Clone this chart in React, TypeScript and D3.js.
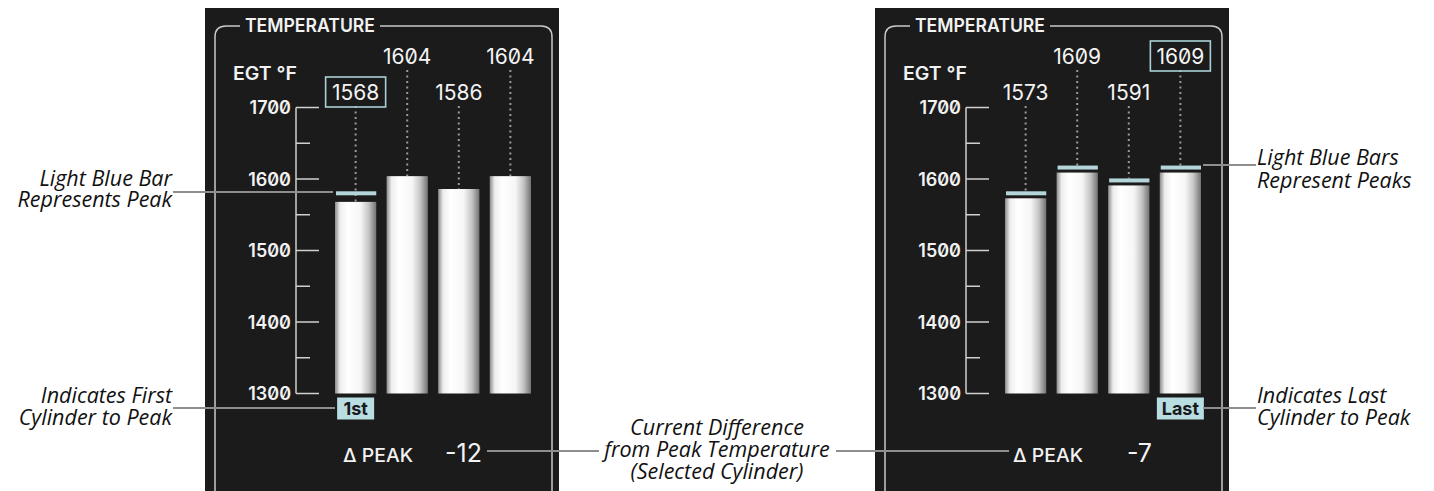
import React from "react";
import * as d3 from "d3";

// ---- data ----
const cylinders = [1, 2, 3, 4];
const majorTicks = [1300, 1400, 1500, 1600, 1700];
const minorTicks = [1350, 1450, 1550, 1650];
const egtLeft = [1568, 1604, 1586, 1604];
const peaksLeft: (number | null)[] = [1580, null, null, null];
const egtRight = [1573, 1609, 1591, 1609];
const peaksRight: (number | null)[] = [1580, 1616, 1598, 1616];
const deltaLeft = "-12";
const deltaRight = "-7";
const badgeLeft = "1st";
const badgeRight = "Last";
const selectedLeft = 0;
const selectedRight = 3;

const panels = [
  { dx: 0, egt: egtLeft, peaks: peaksLeft, sel: selectedLeft, badge: badgeLeft, badgeIdx: 0, badgeW: 37, delta: deltaLeft },
  { dx: 670, egt: egtRight, peaks: peaksRight, sel: selectedRight, badge: badgeRight, badgeIdx: 3, badgeW: 47, delta: deltaRight },
];

const y = d3.scaleLinear().domain([1300, 1700]).range([393.5, 107.5]);
const x = d3.scaleBand<number>().domain(cylinders).range([335, 531]).paddingInner(0.2).paddingOuter(0);

const panelFont = "Inter, 'DejaVu Sans', sans-serif";
const numStyle: React.CSSProperties = { fontFeatureSettings: '"zero" 1' };
const annFont = "'Open Sans', 'Noto Sans', sans-serif";
const peakBlue = "#b4d6da";
const annGray = "#8e8e8e";

function Panel({ p }: { p: typeof panels[number] }) {
  const bw = x.bandwidth();
  return (
    <g transform={`translate(${p.dx},0)`}>
      <rect x={205} y={8} width={354} height={483} fill="#1b1b1b" />
      <path
        d="M215,491 L215,37 Q215,26 226,26 L240,26 M380,26 L541,26 Q552,26 552,37 L552,491"
        fill="none"
        stroke="#c9c9c9"
        strokeWidth={1.5}
      />
      <text x={245} y={32} fill="#f2f2f2" fontFamily={panelFont} fontWeight={600} fontSize={19} textLength={130} lengthAdjust="spacingAndGlyphs">
        TEMPERATURE
      </text>
      <text x={233} y={80} fill="#f2f2f2" fontFamily={panelFont} fontWeight={600} fontSize={18} textLength={64} lengthAdjust="spacingAndGlyphs">
        EGT °F
      </text>
      <line x1={296} x2={296} y1={y(1700)} y2={y(1300)} stroke="#d0d0d0" strokeWidth={1.5} />
      {majorTicks.map((t) => (
        <g key={t}>
          <line x1={296} x2={319} y1={y(t)} y2={y(t)} stroke="#d0d0d0" strokeWidth={1.5} />
          <text x={291} y={y(t) + 6.5} textAnchor="end" fill="#f2f2f2" fontFamily={panelFont} fontWeight={600} fontSize={18} style={numStyle}>
            {t}
          </text>
        </g>
      ))}
      {minorTicks.map((t) => (
        <line key={t} x1={296} x2={310} y1={y(t)} y2={y(t)} stroke="#d0d0d0" strokeWidth={1.5} />
      ))}
      {cylinders.map((c, i) => {
        const v = p.egt[i];
        const pk = p.peaks[i];
        const cx = (x(c) as number) + bw / 2;
        const high = i % 2 === 1;
        const base = high ? 64 : 100;
        const top = pk != null && p.dx > 0 ? y(pk) - 2 : y(v);
        return (
          <g key={c}>
            <line x1={cx} x2={cx} y1={base + 6} y2={top} stroke="#9a9a9a" strokeWidth={2} strokeDasharray="2 3.5" />
            <rect x={x(c)} y={y(v)} width={bw} height={y(1300) - y(v)} fill="url(#barGrad)" />
            {pk != null && <rect x={x(c)! + 1} y={y(pk) - 2} width={bw - 1} height={4} fill={peakBlue} />}
            <text x={cx} y={base} textAnchor="middle" fill="#f4f4f4" fontFamily={panelFont} fontSize={21} style={numStyle}>
              {v}
            </text>
            {i === p.sel && (
              <rect x={cx - 30} y={base - 23} width={60} height={30} fill="none" stroke="#a9d0d4" strokeWidth={1.6} />
            )}
          </g>
        );
      })}
      {(() => {
        const cx = (x(cylinders[p.badgeIdx]) as number) + bw / 2;
        return (
          <g>
            <rect x={cx - p.badgeW / 2} y={397.5} width={p.badgeW} height={22} fill="#b8dde2" />
            <text x={cx} y={415} textAnchor="middle" fill="#1a1a1a" fontFamily={panelFont} fontWeight={700} fontSize={18}>
              {p.badge}
            </text>
          </g>
        );
      })()}
      <text x={343} y={461.5} fill="#f2f2f2" fontFamily={panelFont} fontWeight={500} fontSize={18} textLength={70} lengthAdjust="spacingAndGlyphs">
        Δ PEAK
      </text>
      <text x={482} y={461.5} textAnchor="end" fill="#f2f2f2" fontFamily={panelFont} fontSize={25}>
        {p.delta}
      </text>
    </g>
  );
}

export default function App() {
  const annStyle = { fontFamily: annFont, fontStyle: "italic", fontSize: 21.5, fill: "#111" } as const;
  return (
    <svg width={1434} height={491} style={{ position: "absolute", left: 0, top: 0, background: "#fff" }}>
      <defs>
        <linearGradient id="barGrad" x1="0" x2="1" y1="0" y2="0">
          <stop offset="0%" stopColor="#8a8a8a" />
          <stop offset="12%" stopColor="#ededed" />
          <stop offset="30%" stopColor="#ffffff" />
          <stop offset="62%" stopColor="#f6f6f6" />
          <stop offset="82%" stopColor="#c4c4c4" />
          <stop offset="100%" stopColor="#727272" />
        </linearGradient>
      </defs>
      {panels.map((p) => (
        <Panel key={p.dx} p={p} />
      ))}
      <g stroke={annGray} strokeWidth={2}>
        <line x1={173} x2={333} y1={192} y2={192} />
        <line x1={173} x2={335} y1={408} y2={408} />
        <line x1={487} x2={599} y1={451} y2={451} />
        <line x1={836} x2={1009} y1={451} y2={451} />
        <line x1={1203} x2={1256} y1={165} y2={165} />
        <line x1={1203} x2={1256} y1={408} y2={408} />
      </g>
      <g>
        <text x={172} y={186} textAnchor="end" {...annStyle}>Light Blue Bar</text>
        <text x={172} y={207} textAnchor="end" {...annStyle}>Represents Peak</text>
        <text x={172} y={403} textAnchor="end" {...annStyle}>Indicates First</text>
        <text x={172} y={425} textAnchor="end" {...annStyle}>Cylinder to Peak</text>
        <text x={717} y={435} textAnchor="middle" {...annStyle}>Current Difference</text>
        <text x={717} y={457} textAnchor="middle" {...annStyle}>from Peak Temperature</text>
        <text x={717} y={479} textAnchor="middle" {...annStyle}>(Selected Cylinder)</text>
        <text x={1257} y={165} {...annStyle}>Light Blue Bars</text>
        <text x={1257} y={188} {...annStyle}>Represent Peaks</text>
        <text x={1257} y={403} {...annStyle}>Indicates Last</text>
        <text x={1257} y={425} {...annStyle}>Cylinder to Peak</text>
      </g>
    </svg>
  );
}
